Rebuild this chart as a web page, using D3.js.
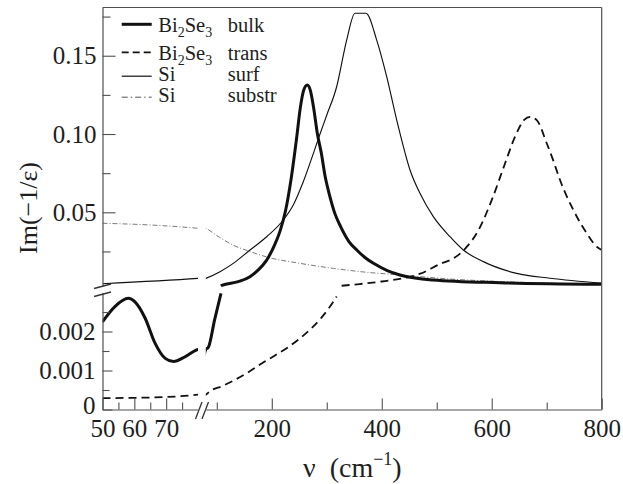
<!DOCTYPE html>
<html>
<head>
<meta charset="utf-8">
<script src="https://cdn.jsdelivr.net/npm/d3@7/dist/d3.min.js"></script>
<style>
html,body{margin:0;padding:0;background:#fff;}
svg{display:block;}
</style>
</head>
<body>
<svg id="chart" width="623" height="484"></svg>
<script>
// ---------- data (frequency in cm^-1, Im(-1/eps)) ----------
const bulkNu  = [50, 53.9, 58.1, 60.2, 63.4, 66.5, 69.7, 72.3, 75.9, 80, 84.5, 96, 107.6, 109, 139, 160.3, 175.4, 190.7, 205, 215, 225, 235, 245, 252, 258, 264.6, 270, 276, 283, 290, 297, 305, 315, 325, 340, 355, 370, 385, 410, 433, 493, 615, 800];
const bulkVal = [0.00225, 0.00264, 0.00285, 0.00276, 0.00234, 0.00170, 0.00131, 0.00123, 0.00135, 0.00154, 0.00159, 0.0023, 0.00298, 0.0033, 0.0057, 0.0089, 0.0132, 0.0195, 0.029, 0.038, 0.051, 0.071, 0.097, 0.117, 0.128, 0.1313, 0.128, 0.117, 0.100, 0.088, 0.073, 0.061, 0.049, 0.041, 0.0315, 0.0258, 0.021, 0.0174, 0.0128, 0.0100, 0.0068, 0.0050, 0.0040];

const transNu  = [50, 60, 70, 80, 87.6, 110, 133, 160, 181.6, 205, 230, 251, 272, 290, 305, 318, 327, 360, 400, 433, 470, 506, 530, 551, 576, 600, 624, 642, 659, 669.7, 681.9, 700, 712, 724.2, 748.4, 772.8, 791, 800];
const transVal = [0.00029, 0.00030, 0.00032, 0.00038, 0.00047, 0.00060, 0.00076, 0.00098, 0.00118, 0.00138, 0.00160, 0.00182, 0.00208, 0.00235, 0.00262, 0.00290, 0.0031, 0.0042, 0.0058, 0.0075, 0.0108, 0.0170, 0.0205, 0.0265, 0.0387, 0.0578, 0.081, 0.098, 0.109, 0.1110, 0.1089, 0.0941, 0.083, 0.0706, 0.0515, 0.0366, 0.0280, 0.0259];

const surfNu  = [50, 80, 105.8, 130, 160.3, 190.7, 220.9, 239.1, 257.3, 275.5, 287.7, 299.9, 318, 336.2, 351.3, 371.3, 390.8, 409, 427.2, 433.2, 451.4, 469.5, 493.8, 524.1, 548.3, 584.7, 645.4, 706, 800];
const surfVal = [0.0044, 0.0078, 0.0121, 0.0174, 0.0259, 0.0344, 0.0451, 0.0547, 0.0695, 0.0875, 0.100, 0.112, 0.1302, 0.160, 0.1771, 0.1771, 0.1600, 0.1366, 0.1089, 0.1004, 0.0770, 0.0621, 0.0472, 0.0344, 0.0259, 0.0185, 0.0110, 0.0079, 0.0048];

const substrNu  = [50, 65, 80, 105, 130, 160, 190.7, 251.3, 311.9, 372.5, 433.2, 524, 615, 700, 800];
const substrVal = [0.0430, 0.0419, 0.0398, 0.0340, 0.0290, 0.0250, 0.0215, 0.0174, 0.0142, 0.0117, 0.0100, 0.0074, 0.0058, 0.0048, 0.0042];

// ---------- ticks ----------
const yUpperMajor = [0.05, 0.10, 0.15];
const yUpperMajorLabels = ["0.05", "0.10", "0.15"];
const yUpperMinor = [0.025, 0.075, 0.125, 0.175];
const yLowerMajor = [0, 0.001, 0.002];
const yLowerMajorLabels = ["0", "0.001", "0.002"];
const yLowerMinor = [0.0005, 0.0015, 0.0025];
const xLeftMajor = [50, 60, 70];
const xLeftMajorLabels = ["50", "60", "70"];
const xLeftMinor = [55, 65, 75];
const xRightMajor = [200, 400, 600, 800];
const xRightMajorLabels = ["200", "400", "600", "800"];
const xRightMinor = [100, 300, 500, 700];

// ---------- legend ----------
const legendMat = [["Bi", "2", "Se", "3"], ["Bi", "2", "Se", "3"], ["Si"], ["Si"]];
const legendKind = ["bulk", "trans", "surf", "substr"];

// ---------- setup ----------
const FONT = '"Liberation Serif","Times New Roman",Times,serif';
const INK = "#1e1e1e";
const AX = "#505050";
const svg = d3.select("#chart");

const xL = d3.scaleLinear().domain([50, 80]).range([102.5, 198]);
const xR = d3.scaleLinear().domain([80, 800]).range([205.8, 601.7]);
const yU = d3.scaleLinear().domain([0.003, 0.1808]).range([285.9, 7.5]);
const yLo = d3.scaleLinear().domain([0, 0.003]).range([409.5, 292.5]);

// clip paths for the four sub-panels
const defs = svg.append("defs");
const panels = [
  {id: "cUL", xs: xL, ys: yU, up: true},
  {id: "cUR", xs: xR, ys: yU, up: true},
  {id: "cLL", xs: xL, ys: yLo, up: false},
  {id: "cLR", xs: xR, ys: yLo, up: false}
];
panels.forEach(p => {
  const [x0, x1] = p.xs.range();
  const y0 = p.ys.range()[1];
  const y1 = p.up ? 287.2 : p.ys.range()[0];
  defs.append("clipPath").attr("id", p.id).append("rect")
    .attr("x", x0).attr("y", y0).attr("width", x1 - x0).attr("height", y1 - y0);
});

const series = [
  {nu: substrNu, val: substrVal, stroke: "#7a7a7a", width: 1, dash: "5,2,1,2"},
  {nu: surfNu, val: surfVal, stroke: "#111", width: 1.15, dash: null},
  {nu: transNu, val: transVal, stroke: "#111", width: 1.8, dash: "8,5"},
  {nu: bulkNu, val: bulkVal, stroke: "#111", width: 3, dash: null}
];

panels.forEach(p => {
  const g = svg.append("g").attr("clip-path", `url(#${p.id})`);
  series.forEach(s => {
    const pts = s.nu.map((n, i) => [n, s.val[i]]);
    const line = d3.line()
      .defined(d => p.up ? d[1] >= 0.00295 : d[1] <= 0.00305)
      .x(d => p.xs(d[0])).y(d => p.ys(d[1]))
      .curve(d3.curveMonotoneX);
    g.append("path").datum(pts).attr("d", line)
      .attr("fill", "none").attr("stroke", s.stroke)
      .attr("stroke-width", s.width)
      .attr("stroke-linejoin", "round")
      .attr("stroke-dasharray", s.dash);
  });
});

// ---------- axes ----------
function styleAxis(g, fs) {
  g.attr("font-family", FONT).attr("font-size", fs);
  g.selectAll(".tick line").attr("stroke", AX).attr("stroke-width", 1.1);
  g.selectAll(".tick text").attr("fill", INK);
  g.selectAll(".domain").attr("stroke", AX).attr("stroke-width", 1.2);
}
function addAxis(axis, tx, ty, keepDomain) {
  const g = svg.append("g").attr("transform", `translate(${tx},${ty})`).call(axis);
  styleAxis(g, 25);
  if (!keepDomain) g.select(".domain").remove();
  return g;
}
const x0 = xL.range()[0];
// upper y
addAxis(d3.axisLeft(yU).tickValues(yUpperMajor).tickFormat((d, i) => yUpperMajorLabels[i])
  .tickSizeInner(-13).tickSizeOuter(0).tickPadding(6), x0, 0, true);
addAxis(d3.axisLeft(yU).tickValues(yUpperMinor).tickFormat(() => "")
  .tickSizeInner(-8).tickSizeOuter(0), x0, 0, false);
// lower y
const gyl = addAxis(d3.axisLeft(yLo).tickValues(yLowerMajor).tickFormat((d, i) => yLowerMajorLabels[i])
  .tickSizeInner(-10).tickSizeOuter(0).tickPadding(7), x0, 0, true);
gyl.selectAll(".tick text").filter(d => d === 0).attr("y", -4);
addAxis(d3.axisLeft(yLo).tickValues(yLowerMinor).tickFormat(() => "")
  .tickSizeInner(-7).tickSizeOuter(0), x0, 0, false);
// bottom x
const yb = yLo.range()[0];
addAxis(d3.axisBottom(xL).tickValues(xLeftMajor).tickFormat((d, i) => xLeftMajorLabels[i])
  .tickSizeInner(-11).tickSizeOuter(0).tickPadding(10), 0, yb, true);
addAxis(d3.axisBottom(xL).tickValues(xLeftMinor).tickFormat(() => "")
  .tickSizeInner(-7).tickSizeOuter(0), 0, yb, false);
addAxis(d3.axisBottom(xR).tickValues(xRightMajor).tickFormat((d, i) => xRightMajorLabels[i])
  .tickSizeInner(-11).tickSizeOuter(0).tickPadding(10), 0, yb, true);
addAxis(d3.axisBottom(xR).tickValues(xRightMinor).tickFormat(() => "")
  .tickSizeInner(-7).tickSizeOuter(0), 0, yb, false);

// frame: top and right
const xr = xR.range()[1], yt = yU.range()[1];
svg.append("line").attr("x1", x0).attr("x2", xr).attr("y1", yt).attr("y2", yt)
  .attr("stroke", AX).attr("stroke-width", 1.2);
svg.append("line").attr("x1", xr).attr("x2", xr).attr("y1", yt).attr("y2", yb)
  .attr("stroke", AX).attr("stroke-width", 1.2);

// break marks
const brk = svg.append("g").attr("stroke", "#333").attr("stroke-width", 1.3);
[[94, 288.5, 111, 284], [94, 296.5, 111, 292]].forEach(a =>
  brk.append("line").attr("x1", a[0]).attr("y1", a[1]).attr("x2", a[2]).attr("y2", a[3]));
[[195.5, 419, 202, 402], [202, 419, 208.5, 402]].forEach(a =>
  brk.append("line").attr("x1", a[0]).attr("y1", a[1]).attr("x2", a[2]).attr("y2", a[3]));

// ---------- axis titles ----------
svg.append("text").attr("transform", "translate(37,208) rotate(-90)")
  .attr("text-anchor", "middle").attr("font-family", FONT).attr("font-size", 26)
  .attr("fill", INK).text("Im(\u22121/\u03b5)");

const xt = svg.append("text").attr("x", 303).attr("y", 476.5)
  .attr("font-family", FONT).attr("font-size", 28).attr("fill", INK);
xt.append("tspan").text("\u03bd\u00a0\u00a0(cm");
xt.append("tspan").attr("font-size", 18).attr("dy", -12).text("\u22121");
xt.append("tspan").attr("dy", 12).text(")");

// ---------- legend ----------
const legY = [24.3, 52.3, 76.2, 97.2];
const legBase = [31.8, 59.6, 80.8, 102.4];
const legStyle = [
  {w: 3, dash: null, c: "#111"},
  {w: 1.7, dash: "7,4", c: "#111"},
  {w: 1.2, dash: null, c: "#111"},
  {w: 1, dash: "6,3,1.5,3", c: "#555"}
];
const lg = svg.append("g").attr("font-family", FONT).attr("fill", INK);
legendKind.forEach((k, i) => {
  lg.append("line").attr("x1", 121.7).attr("x2", 151.7).attr("y1", legY[i]).attr("y2", legY[i])
    .attr("stroke", legStyle[i].c).attr("stroke-width", legStyle[i].w)
    .attr("stroke-dasharray", legStyle[i].dash);
  const t = lg.append("text").attr("x", 158.3).attr("y", legBase[i]).attr("font-size", 20.5);
  const parts = legendMat[i];
  if (parts.length === 1) {
    t.text(parts[0]);
  } else {
    t.append("tspan").text(parts[0]);
    t.append("tspan").attr("font-size", 14).attr("dy", 5.5).text(parts[1]);
    t.append("tspan").attr("dy", -5.5).text(parts[2]);
    t.append("tspan").attr("font-size", 14).attr("dy", 5.5).text(parts[3]);
  }
  lg.append("text").attr("x", 227.7).attr("y", legBase[i]).attr("font-size", 20.5).text(k);
});
</script>
</body>
</html>
